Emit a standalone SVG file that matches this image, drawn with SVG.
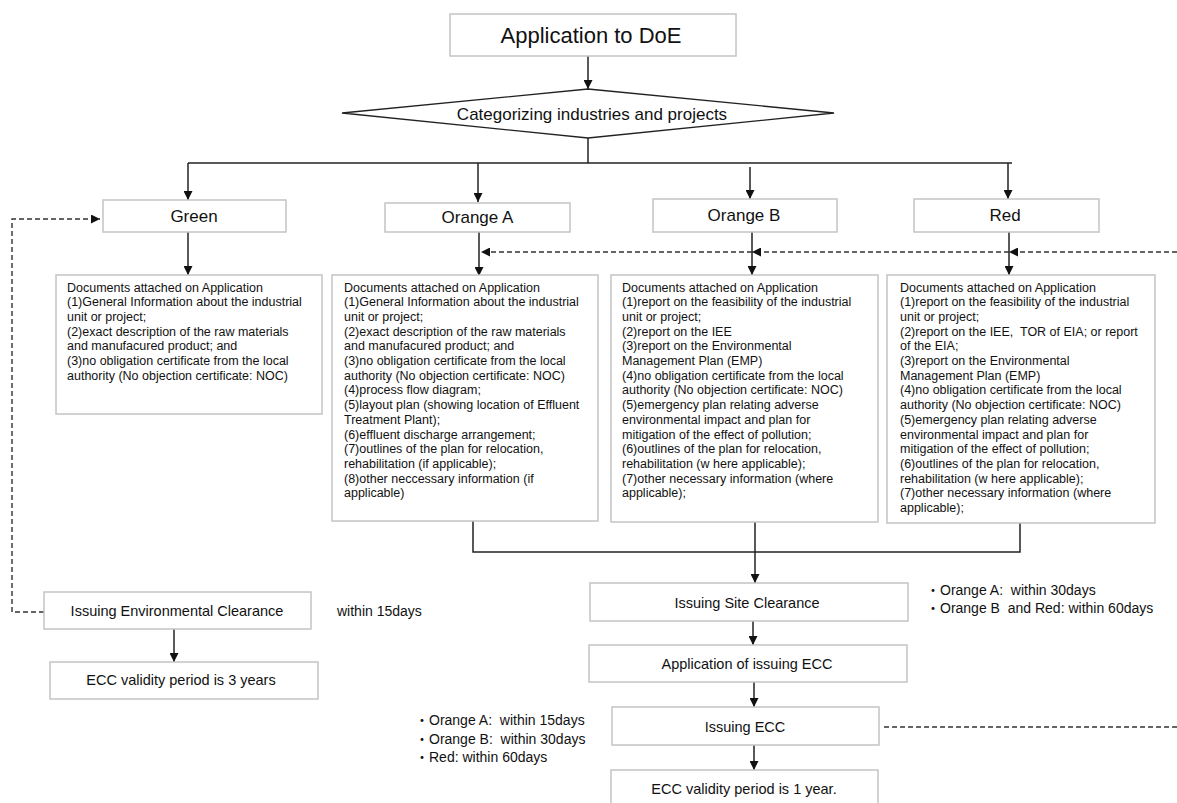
<svg xmlns="http://www.w3.org/2000/svg" width="1177" height="803" viewBox="0 0 1177 803">
  <style>
    .box { fill: #ffffff; stroke: #c4c4c4; stroke-width: 1.5; }
    .dia { fill: #ffffff; stroke: #222222; stroke-width: 1.3; }
    .lbl { font-family: "Liberation Sans", Arial, sans-serif; fill: #111111; text-anchor: middle; dominant-baseline: central; }
    .big { font-size: 22px; }
    .mid { font-size: 17px; }
    .sm { font-size: 14.5px; }
    .doc { font-family: "Liberation Sans", Arial, sans-serif; font-size: 12.5px; fill: #111111; white-space: pre; }
    .note { font-family: "Liberation Sans", "Noto Sans CJK JP", sans-serif; font-size: 14px; fill: #111111; white-space: pre; }
    .wire { fill: none; stroke: #222222; stroke-width: 1.5; }
    .dash { fill: none; stroke: #333333; stroke-width: 1.4; stroke-dasharray: 5 3; }
  </style>
  <defs>
    <marker id="arrow" viewBox="0 0 10 10" refX="10" refY="5" markerWidth="9" markerHeight="9" markerUnits="userSpaceOnUse" orient="auto">
      <path d="M0,0 L10,5 L0,10 z" fill="#111111"/>
    </marker>
  </defs>
  <rect width="1177" height="803" fill="#ffffff"/>

  <!-- connectors -->
  <g id="connectors">
    <path class="wire" d="M588,56 V89" marker-end="url(#arrow)"/>
    <path class="wire" d="M588,138 V163"/>
    <path class="wire" d="M188,163 H1012"/>
    <path class="wire" d="M188,163 V200" marker-end="url(#arrow)"/>
    <path class="wire" d="M478,163 V202" marker-end="url(#arrow)"/>
    <path class="wire" d="M750,167 V199" marker-end="url(#arrow)"/>
    <path class="wire" d="M1008,163 V199" marker-end="url(#arrow)"/>
    <path class="wire" d="M188,232 V275" marker-end="url(#arrow)"/>
    <path class="wire" d="M479,232 V276" marker-end="url(#arrow)"/>
    <path class="wire" d="M752,232 V275" marker-end="url(#arrow)"/>
    <path class="wire" d="M1009,232 V275" marker-end="url(#arrow)"/>
    <path class="wire" d="M473,521 V552 H1020 V523"/>
    <path class="wire" d="M755,522 V583" marker-end="url(#arrow)"/>
    <path class="wire" d="M753,621 V645" marker-end="url(#arrow)"/>
    <path class="wire" d="M754,682 V707" marker-end="url(#arrow)"/>
    <path class="wire" d="M754,745 V770" marker-end="url(#arrow)"/>
    <path class="wire" d="M174,629 V662" marker-end="url(#arrow)"/>
    <!-- feedback paths -->
    <path class="dash" d="M44,612 H12 V219 H100" marker-end="url(#arrow)"/>
    <path class="dash" d="M1177,252 H1009" marker-end="url(#arrow)"/>
    <path class="dash" d="M1009,252 H752" marker-end="url(#arrow)"/>
    <path class="dash" d="M752,252 H481" marker-end="url(#arrow)"/>
    <path class="dash" d="M884,727 H1177"/>
  </g>

  <g id="application">
    <rect class="box" x="450" y="14" width="286" height="42"/>
    <text class="lbl big" x="591" y="35">Application to DoE</text>
  </g>

  <g id="categorizing">
    <polygon class="dia" points="588,89 834,113 588,138 342,113"/>
    <text class="lbl mid" x="592" y="114">Categorizing industries and projects</text>
  </g>

  <g id="green">
    <rect class="box" x="103" y="200" width="183" height="32"/>
    <text class="lbl mid" x="194" y="216.5">Green</text>
  </g>
  <g id="orange-a">
    <rect class="box" x="385" y="203" width="185" height="29"/>
    <text class="lbl mid" x="477.5" y="217.5">Orange A</text>
  </g>
  <g id="orange-b">
    <rect class="box" x="653" y="199" width="184" height="33"/>
    <text class="lbl mid" x="744" y="215.5">Orange B</text>
  </g>
  <g id="red">
    <rect class="box" x="914" y="199" width="185" height="33"/>
    <text class="lbl mid" x="1005" y="215.5">Red</text>
  </g>

  <g id="docs-green">
    <rect class="box" x="56" y="275" width="266" height="139"/>
    <text class="doc">
      <tspan x="67" y="291.5">Documents attached on Application</tspan>
      <tspan x="67" y="306.2">(1)General Information about the industrial</tspan>
      <tspan x="67" y="320.9">unit or project;</tspan>
      <tspan x="67" y="335.6">(2)exact description of the raw materials</tspan>
      <tspan x="67" y="350.3">and manufacured product; and</tspan>
      <tspan x="67" y="365">(3)no obligation certificate from the local</tspan>
      <tspan x="67" y="379.7">authority (No objection certificate: NOC)</tspan>
    </text>
  </g>

  <g id="docs-orange-a">
    <rect class="box" x="332" y="275" width="266" height="246"/>
    <text class="doc">
      <tspan x="344" y="291.5">Documents attached on Application</tspan>
      <tspan x="344" y="306.2">(1)General Information about the industrial</tspan>
      <tspan x="344" y="320.9">unit or project;</tspan>
      <tspan x="344" y="335.6">(2)exact description of the raw materials</tspan>
      <tspan x="344" y="350.3">and manufacured product; and</tspan>
      <tspan x="344" y="365">(3)no obligation certificate from the local</tspan>
      <tspan x="344" y="379.7">authority (No objection certificate: NOC)</tspan>
      <tspan x="344" y="394.4">(4)process flow diagram;</tspan>
      <tspan x="344" y="409.1">(5)layout plan (showing location of Effluent</tspan>
      <tspan x="344" y="423.8">Treatment Plant);</tspan>
      <tspan x="344" y="438.5">(6)effluent discharge arrangement;</tspan>
      <tspan x="344" y="453.2">(7)outlines of the plan for relocation,</tspan>
      <tspan x="344" y="467.9">rehabilitation (if applicable);</tspan>
      <tspan x="344" y="482.6">(8)other neccessary information (if</tspan>
      <tspan x="344" y="497.3">applicable)</tspan>
    </text>
  </g>

  <g id="docs-orange-b">
    <rect class="box" x="611" y="275" width="267" height="247"/>
    <text class="doc">
      <tspan x="622" y="291.5">Documents attached on Application</tspan>
      <tspan x="622" y="306.2">(1)report on the feasibility of the industrial</tspan>
      <tspan x="622" y="320.9">unit or project;</tspan>
      <tspan x="622" y="335.6">(2)report on the IEE</tspan>
      <tspan x="622" y="350.3">(3)report on the Environmental</tspan>
      <tspan x="622" y="365">Management Plan (EMP)</tspan>
      <tspan x="622" y="379.7">(4)no obligation certificate from the local</tspan>
      <tspan x="622" y="394.4">authority (No objection certificate: NOC)</tspan>
      <tspan x="622" y="409.1">(5)emergency plan relating adverse</tspan>
      <tspan x="622" y="423.8">environmental impact and plan for</tspan>
      <tspan x="622" y="438.5">mitigation of the effect of pollution;</tspan>
      <tspan x="622" y="453.2">(6)outlines of the plan for relocation,</tspan>
      <tspan x="622" y="467.9">rehabilitation (w here applicable);</tspan>
      <tspan x="622" y="482.6">(7)other necessary information (where</tspan>
      <tspan x="622" y="497.3">applicable);</tspan>
    </text>
  </g>

  <g id="docs-red">
    <rect class="box" x="887" y="275" width="268" height="248"/>
    <text class="doc">
      <tspan x="900" y="291.5">Documents attached on Application</tspan>
      <tspan x="900" y="306.2">(1)report on the feasibility of the industrial</tspan>
      <tspan x="900" y="320.9">unit or project;</tspan>
      <tspan x="900" y="335.6">(2)report on the IEE,  TOR of EIA; or report</tspan>
      <tspan x="900" y="350.3">of the EIA;</tspan>
      <tspan x="900" y="365">(3)report on the Environmental</tspan>
      <tspan x="900" y="379.7">Management Plan (EMP)</tspan>
      <tspan x="900" y="394.4">(4)no obligation certificate from the local</tspan>
      <tspan x="900" y="409.1">authority (No objection certificate: NOC)</tspan>
      <tspan x="900" y="423.8">(5)emergency plan relating adverse</tspan>
      <tspan x="900" y="438.5">environmental impact and plan for</tspan>
      <tspan x="900" y="453.2">mitigation of the effect of pollution;</tspan>
      <tspan x="900" y="467.9">(6)outlines of the plan for relocation,</tspan>
      <tspan x="900" y="482.6">rehabilitation (w here applicable);</tspan>
      <tspan x="900" y="497.3">(7)other necessary information (where</tspan>
      <tspan x="900" y="512">applicable);</tspan>
    </text>
  </g>

  <g id="issuing-ec">
    <rect class="box" x="44" y="592" width="267" height="37"/>
    <text class="lbl sm" x="177" y="610.5">Issuing Environmental Clearance</text>
  </g>
  <g id="ecc-3-years">
    <rect class="box" x="50" y="662" width="268" height="37"/>
    <text class="lbl sm" x="181" y="680">ECC validity period is 3 years</text>
  </g>
  <text class="note" x="337" y="616">within 15days</text>

  <g id="site-clearance">
    <rect class="box" x="590" y="583" width="318" height="38"/>
    <text class="lbl sm" x="747" y="603">Issuing Site Clearance</text>
  </g>
  <g id="site-notes">
    <text class="note" x="926" y="595">・Orange A:  within 30days</text>
    <text class="note" x="926" y="613">・Orange B  and Red: within 60days</text>
  </g>

  <g id="ecc-application">
    <rect class="box" x="589" y="645" width="318" height="37"/>
    <text class="lbl sm" x="747" y="664">Application of issuing ECC</text>
  </g>

  <g id="issuing-ecc">
    <rect class="box" x="612" y="707" width="267" height="38"/>
    <text class="lbl sm" x="745" y="727">Issuing ECC</text>
  </g>
  <g id="ecc-notes">
    <text class="note" x="415" y="725">・Orange A:  within 15days</text>
    <text class="note" x="415" y="744">・Orange B:  within 30days</text>
    <text class="note" x="415" y="762">・Red: within 60days</text>
  </g>

  <g id="ecc-1-year">
    <rect class="box" x="611" y="770" width="267" height="40"/>
    <text class="lbl sm" x="744" y="789">ECC validity period is 1 year.</text>
  </g>
</svg>
